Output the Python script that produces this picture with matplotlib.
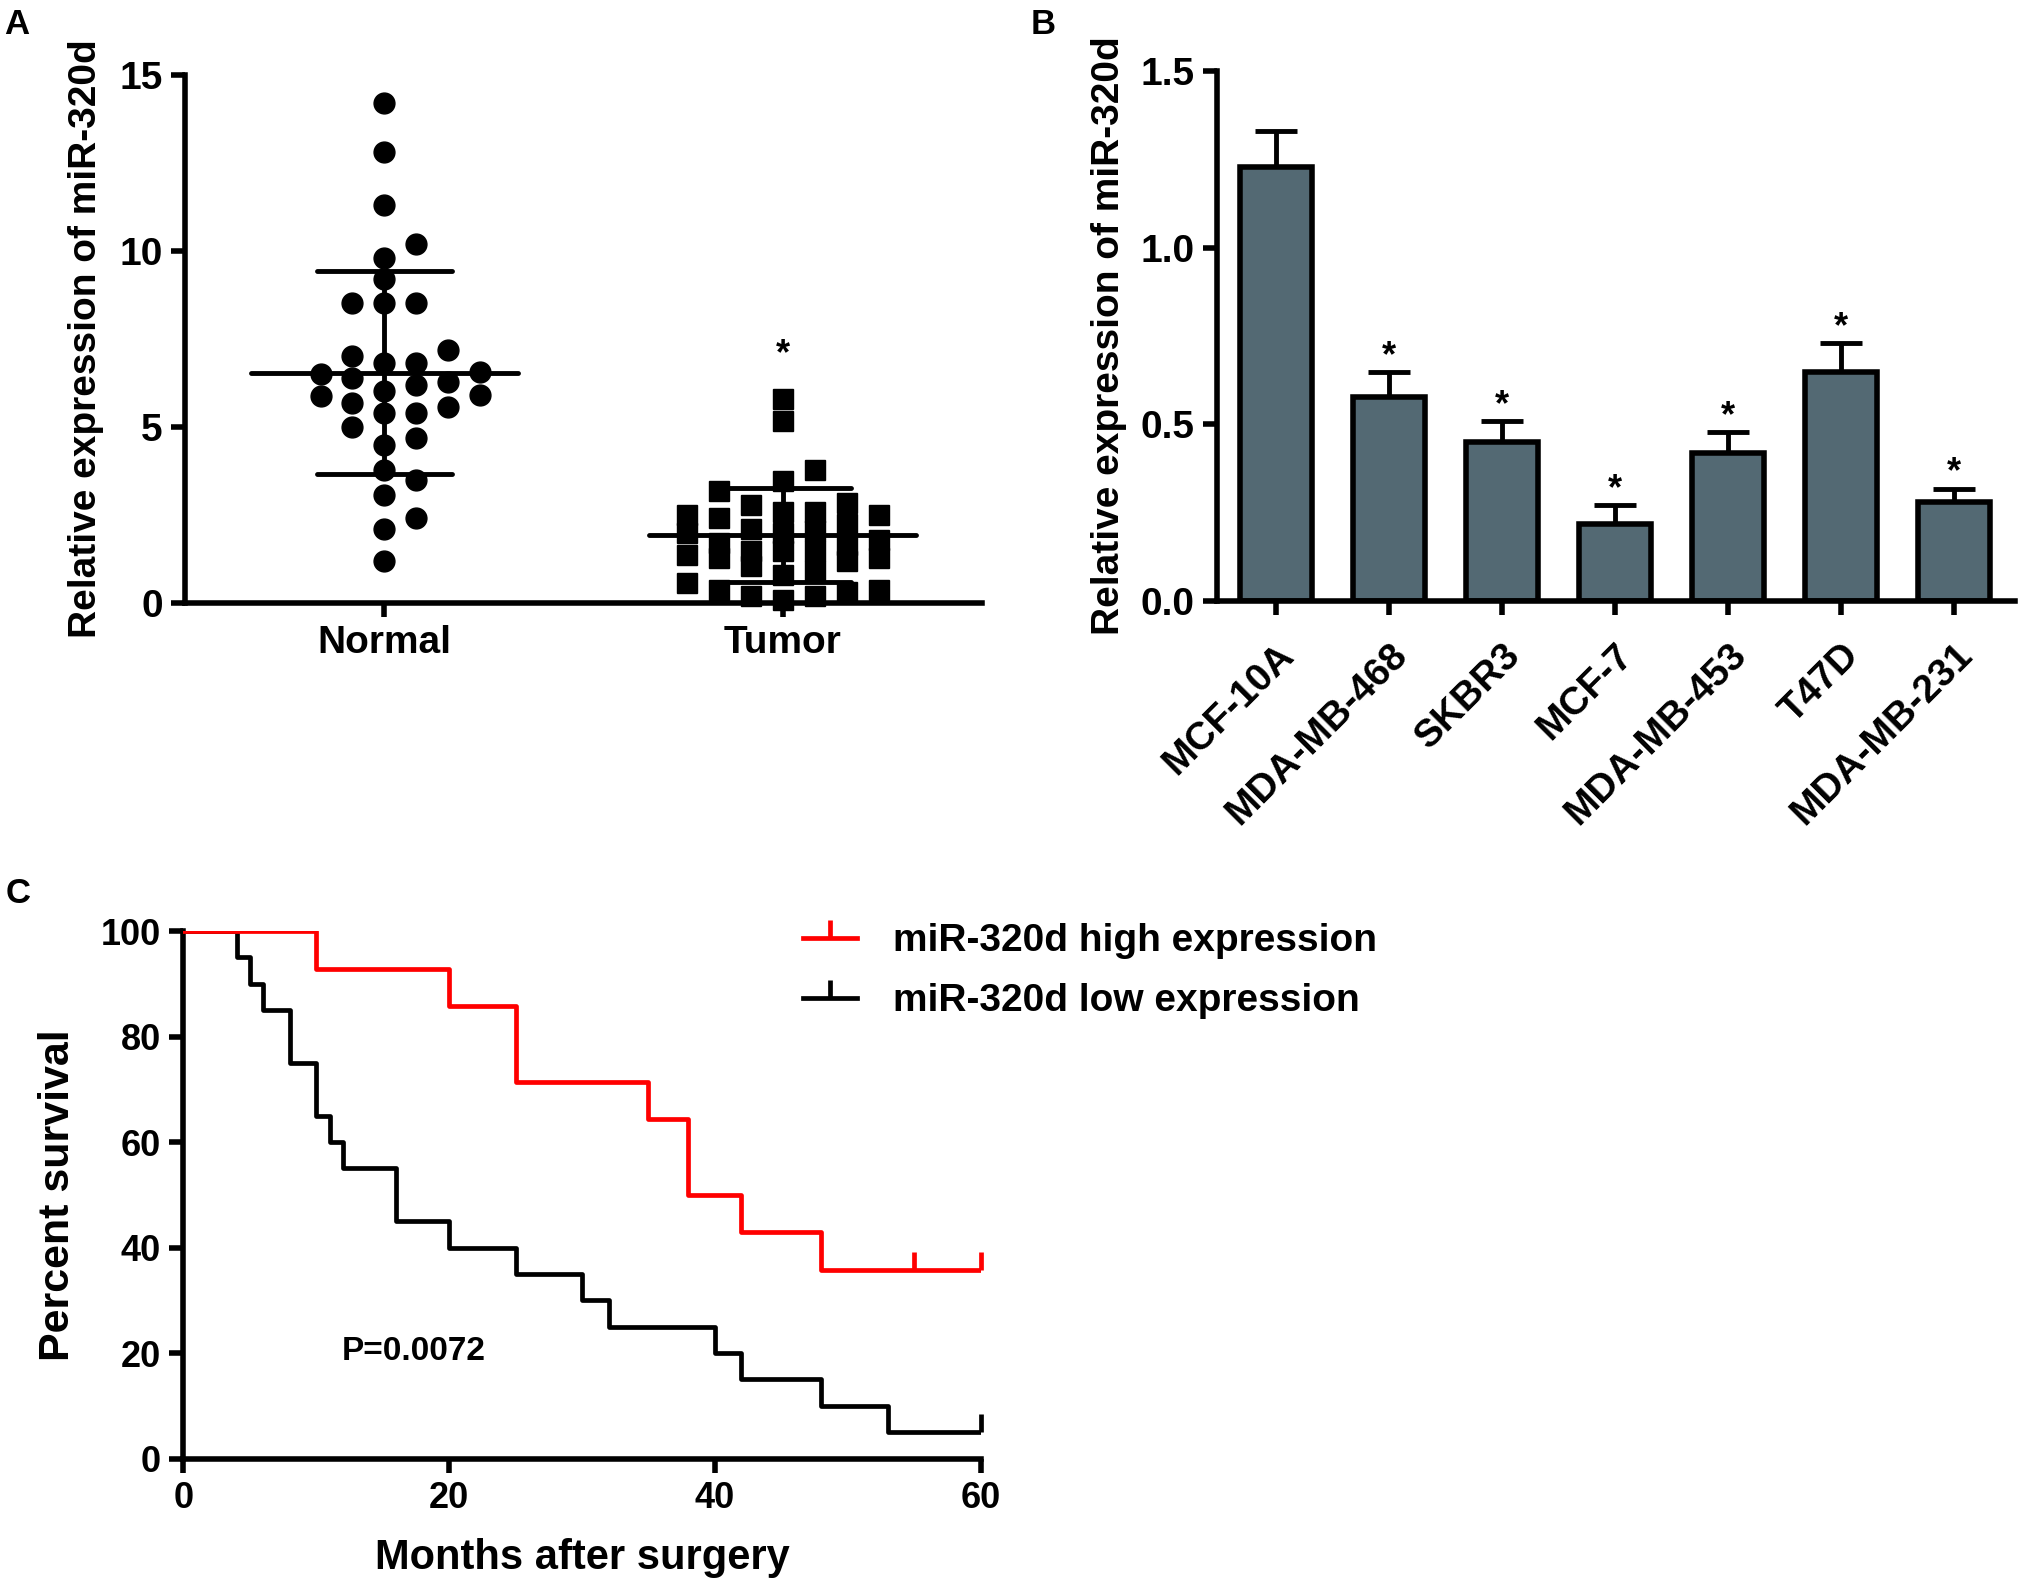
"""
Three-panel figure: miR-320d expression in tissue, cell lines and survival.
"""
import numpy as np
import matplotlib
matplotlib.use("Agg")
from matplotlib import pyplot as plt
from matplotlib.lines import Line2D

plt.rcParams['font.family'] = ['Liberation Sans', 'DejaVu Sans']
plt.rcParams['font.weight'] = 'bold'
plt.rcParams['axes.labelweight'] = 'bold'

# panel A: relative expression per sample
normal_values = [14.20, 12.81, 11.31, 10.20, 9.81, 9.19, 8.51, 8.51, 8.51,
                 7.20, 7.01, 6.82, 6.82, 6.56, 6.51, 6.40, 6.27, 6.18, 6.02,
                 5.92, 5.89, 5.67, 5.58, 5.40, 5.39, 4.99, 4.68, 4.49, 3.77,
                 3.49, 3.07, 2.40, 2.09, 1.18]
tumor_values = [5.80, 5.18, 3.78, 3.47, 3.18, 2.85, 2.78, 2.59, 2.59, 2.49,
                2.49, 2.42, 2.23, 2.09, 2.05, 2.00, 1.99, 1.80, 1.71, 1.65,
                1.47, 1.47, 1.47, 1.37, 1.28, 1.28, 1.18, 1.05, 0.90, 0.78,
                0.57, 0.38, 0.38, 0.30, 0.19, 0.19, 0.09]
group_names = ['Normal', 'Tumor']
group_mean = [6.54, 1.93]
group_sd = [2.89, 1.33]

# panel B: cell lines
cell_lines = ['MCF-10A', 'MDA-MB-468', 'SKBR3', 'MCF-7', 'MDA-MB-453',
              'T47D', 'MDA-MB-231']
cell_expr = [1.228, 0.578, 0.449, 0.218, 0.419, 0.647, 0.279]
cell_err = [0.103, 0.069, 0.060, 0.052, 0.058, 0.082, 0.038]
cell_signif = [False, True, True, True, True, True, True]

# panel C: Kaplan-Meier steps (months, percent survival)
high_times = [0, 10, 20, 25, 35, 38, 42, 48, 60]
high_surv = [100, 92.86, 85.71, 71.43, 64.29, 50.0, 42.86, 35.71, 35.71]
high_censor = [55, 60]
low_times = [0, 4, 5, 6, 8, 10, 11, 12, 16, 20, 25, 30, 32, 40, 42, 48, 53, 60]
low_surv = [100, 95, 90, 85, 75, 65, 60, 55, 45, 40, 35, 30, 25, 20, 15, 10,
            5, 5]
low_censor = [60]
p_text = 'P=0.0072'

BAR_COLOR = '#536973'
TICK_FS = 28
LABEL_FS = 28
KM_LW = 3.4


def swarm_offsets(values, dy, dx, max_col=3):
    """
    Simple beeswarm: put each point in the first free column,
    or in the least crowded one when all are taken.
    """
    values = np.asarray(values)
    placed = []
    offsets = np.zeros(len(values))
    cols = [0]
    for c in range(1, max_col + 1):
        cols += [c, -c]
    for i in np.argsort(values):
        v = values[i]
        best, best_gap = cols[0], -1.0
        for k in cols:
            gaps = [abs(v - pv) for pv, pk in placed if pk == k]
            gap = min(gaps) if gaps else 99.0
            if gap >= dy:
                best = k
                break
            if gap > best_gap:
                best, best_gap = k, gap
        placed.append((v, best))
        offsets[i] = best * dx
    return offsets


def style_axes(ax):
    for side in ['top', 'right']:
        ax.spines[side].set_visible(False)
    for side in ['left', 'bottom']:
        ax.spines[side].set_linewidth(4)
    ax.tick_params(width=4, length=10, labelsize=TICK_FS, pad=6)


def plot_scatter(ax):
    markers = ['o', 's']
    for i, vals in enumerate([normal_values, tumor_values]):
        x = i + swarm_offsets(vals, 0.6, 0.08)
        ax.plot(x, vals, ls='none', marker=markers[i], ms=15, color='black',
                clip_on=False, zorder=3)
        m, s = group_mean[i], group_sd[i]
        ax.hlines(m, i - 0.335, i + 0.335, color='black', lw=3.5, zorder=4,
                  capstyle='round')
        ax.hlines([m - s, m + s], i - 0.17, i + 0.17, color='black', lw=3.5,
                  zorder=4, capstyle='round')
        ax.vlines(i, m - s, m + s, color='black', lw=3.5, zorder=4)
    ax.text(1, max(tumor_values) + 0.75, '*', ha='center', va='bottom',
            fontsize=26)
    ax.set_xlim(-0.5, 1.5)
    ax.set_ylim(0, 15)
    ax.set_yticks([0, 5, 10, 15])
    ax.set_xticks([0, 1])
    ax.set_xticklabels(group_names, fontsize=29)
    ax.set_ylabel('Relative expression of miR-320d', fontsize=LABEL_FS)
    ax.yaxis.set_label_coords(-0.102, 0.5)
    style_axes(ax)


def plot_bars(ax):
    x = np.arange(len(cell_lines))
    ax.bar(x, cell_expr, width=0.64, color=BAR_COLOR, edgecolor='black',
           linewidth=4, zorder=2)
    ax.errorbar(x, cell_expr, yerr=[np.zeros(len(x)), cell_err], fmt='none',
                ecolor='black', elinewidth=3.5, capsize=15, capthick=3.5,
                zorder=1)
    for xi, v, e, sig in zip(x, cell_expr, cell_err, cell_signif):
        if sig:
            ax.text(xi, v + e - 0.005, '*', ha='center', va='bottom',
                    fontsize=26)
    ax.set_xlim(-0.52, 6.54)
    ax.set_ylim(0, 1.5)
    ax.set_yticks([0.0, 0.5, 1.0, 1.5])
    ax.set_yticklabels(['0.0', '0.5', '1.0', '1.5'])
    ax.set_xticks(x)
    ax.set_xticklabels(cell_lines, rotation=45, ha='right', va='top',
                       rotation_mode='anchor', fontsize=TICK_FS)
    ax.set_ylabel('Relative expression of miR-320d', fontsize=LABEL_FS)
    ax.yaxis.set_label_coords(-0.113, 0.5)
    style_axes(ax)
    ax.tick_params(axis='x', pad=16)


def plot_survival(ax):
    ax.step(high_times, high_surv, where='post', color='#ff0000', lw=KM_LW,
            zorder=3)
    ax.step(low_times, low_surv, where='post', color='black', lw=KM_LW,
            zorder=2)
    ax.plot(high_censor, [high_surv[-1]] * len(high_censor), ls='none',
            marker=2, ms=13, mew=KM_LW, color='#ff0000', clip_on=False)
    ax.plot(low_censor, [low_surv[-1]] * len(low_censor), ls='none',
            marker=2, ms=13, mew=KM_LW, color='black', clip_on=False)
    ax.text(11.9, 20.2, p_text, ha='left', va='center', fontsize=24)
    handles = [Line2D([], [], color='#ff0000', lw=KM_LW, marker=2, ms=13,
                      mew=KM_LW),
               Line2D([], [], color='black', lw=KM_LW, marker=2, ms=13,
                      mew=KM_LW)]
    fig = ax.figure
    fig.legend(handles, ['miR-320d high expression',
                         'miR-320d low expression'],
               loc='upper left', bbox_to_anchor=(0.3975, 0.4175),
               frameon=False, fontsize=28, numpoints=1, handlelength=1.4,
               handletextpad=0.92, labelspacing=0.62, borderpad=0,
               borderaxespad=0)
    ax.set_xlim(0, 60)
    ax.set_ylim(0, 100)
    ax.set_xticks([0, 20, 40, 60])
    ax.set_yticks([0, 20, 40, 60, 80, 100])
    ax.set_xlabel('Months after surgery', fontsize=30)
    ax.set_ylabel('Percent survival', fontsize=31)
    ax.yaxis.set_label_coords(-0.132, 0.5)
    ax.xaxis.set_label_coords(0.5, -0.15)
    style_axes(ax)
    ax.tick_params(labelsize=26)


def plot():
    fig = plt.figure(figsize=(20.20, 15.85), dpi=100)
    ax_a = fig.add_axes([0.0916, 0.6196, 0.3946, 0.3331])
    ax_b = fig.add_axes([0.6025, 0.6210, 0.3950, 0.3340])
    ax_c = fig.add_axes([0.0908, 0.0798, 0.3946, 0.3328])

    plot_scatter(ax_a)
    plot_bars(ax_b)
    plot_survival(ax_c)

    for label, x, y in [('A', 0.002, 0.995), ('B', 0.510, 0.995),
                        ('C', 0.003, 0.447)]:
        fig.text(x, y, label, fontsize=25, ha='left', va='top')

    fig.savefig('out.png', dpi=100)


if __name__ == '__main__':
    plot()
